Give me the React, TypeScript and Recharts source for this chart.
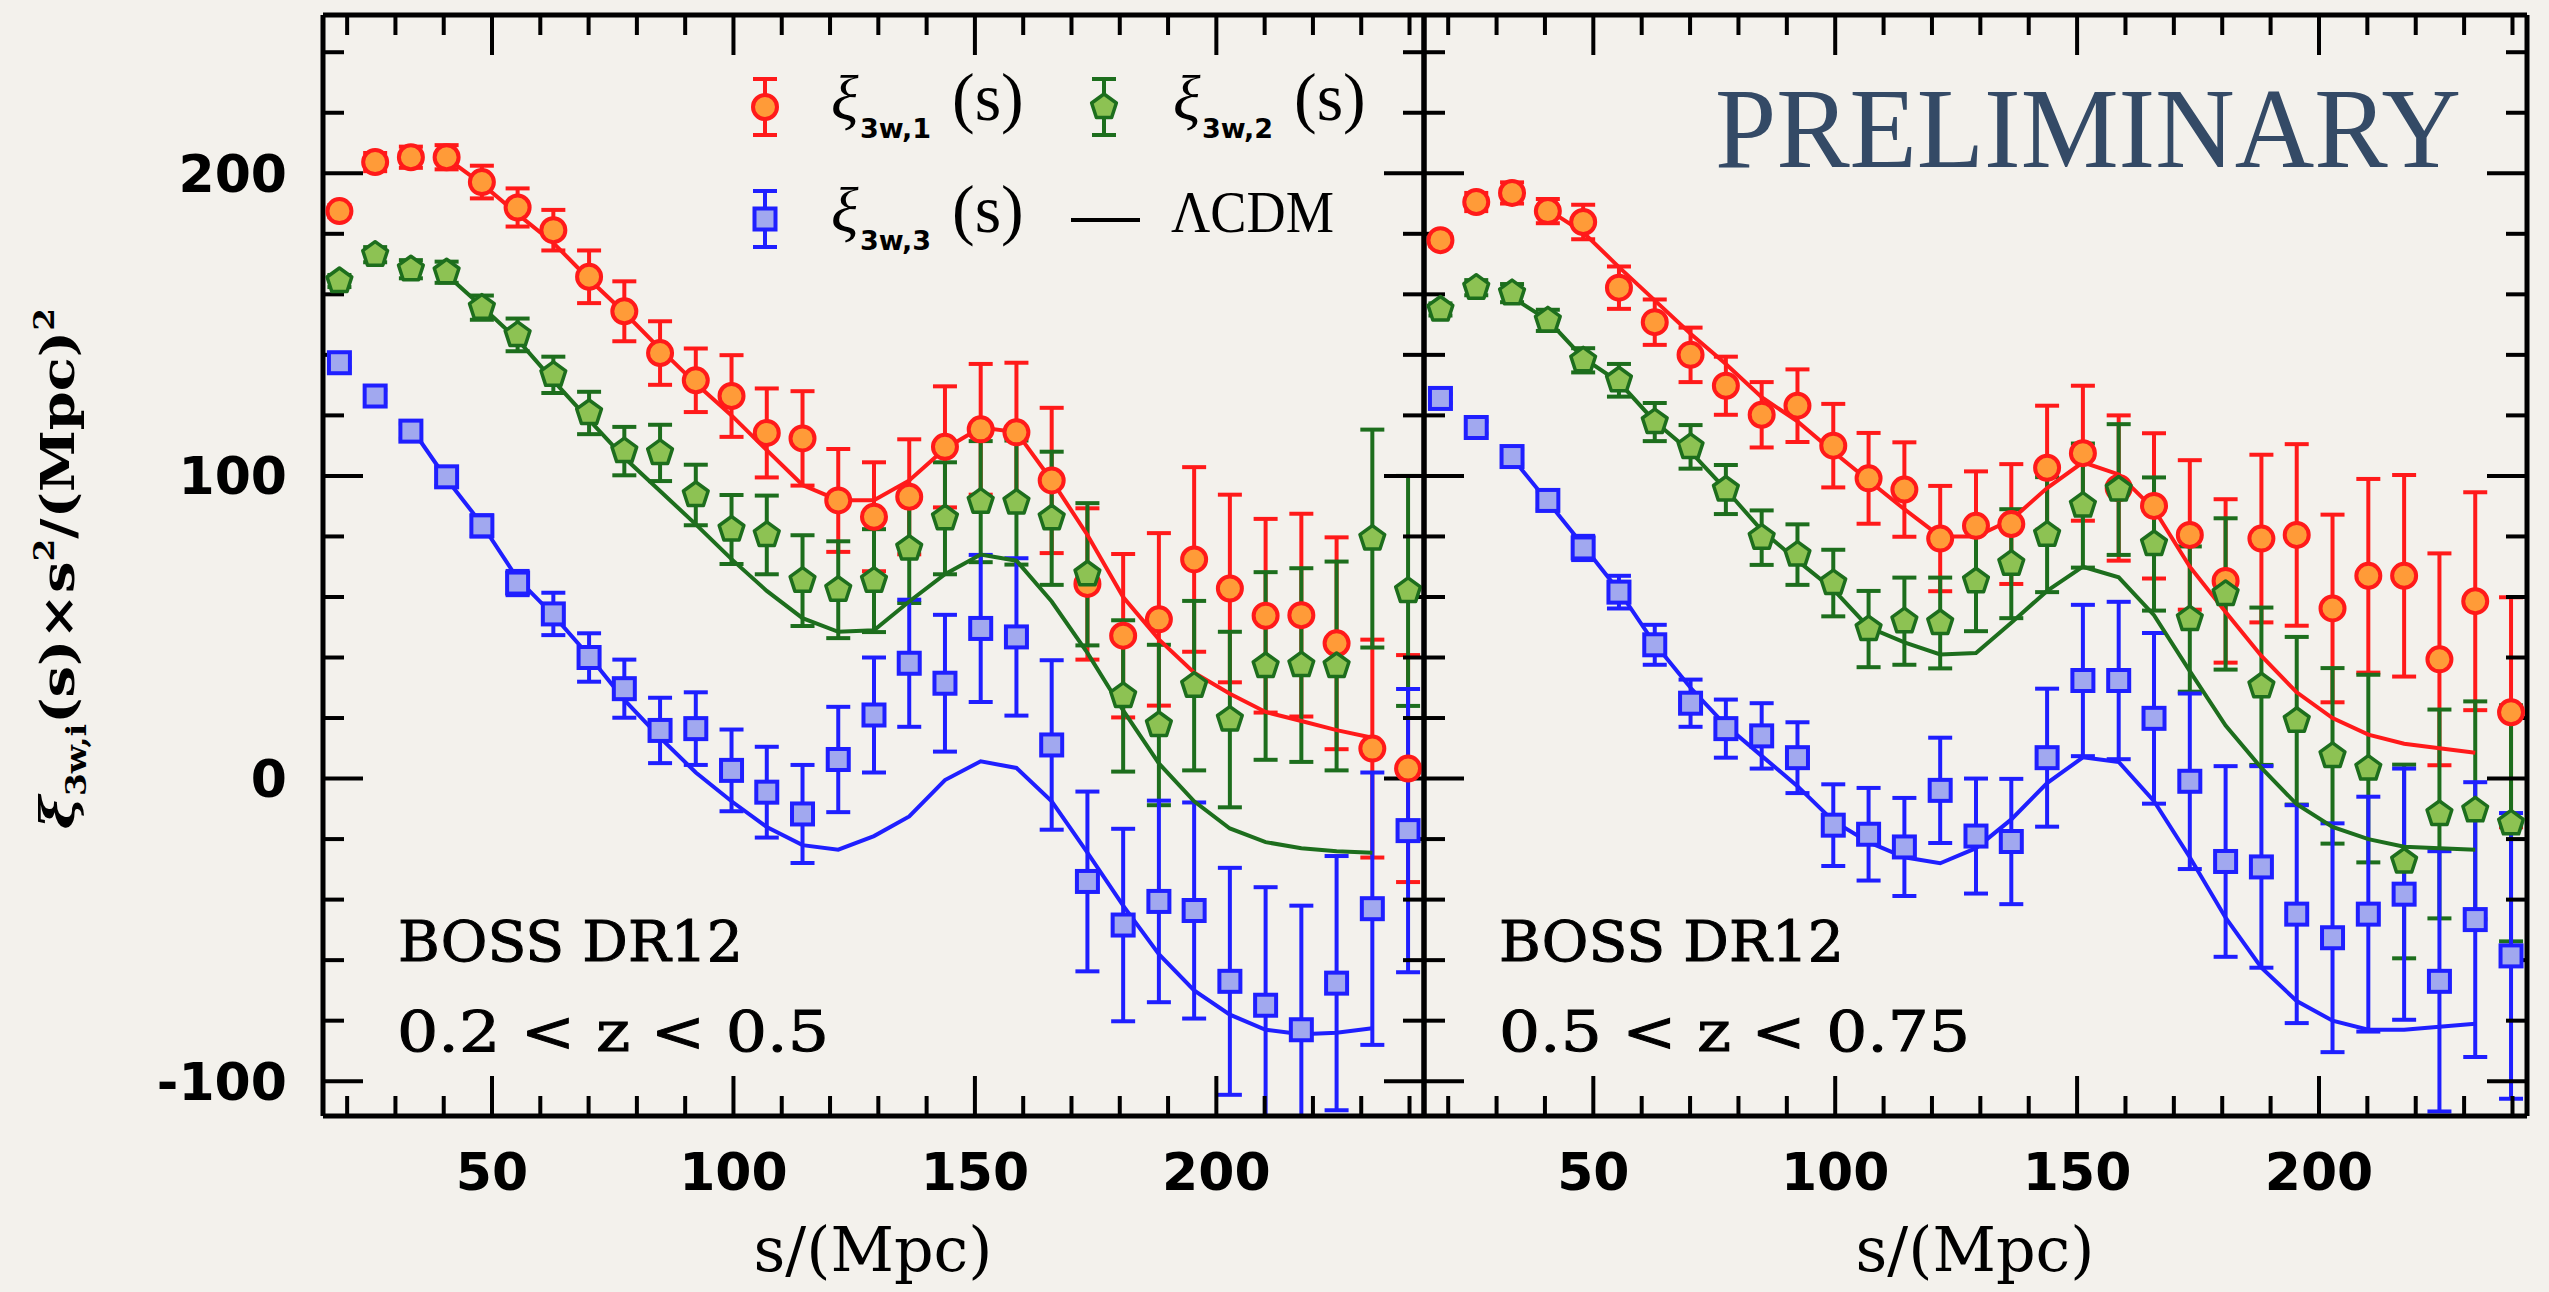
import React from 'react';
import { ComposedChart, Scatter, Line, XAxis, YAxis, ErrorBar } from 'recharts';

// separation bins (Mpc), shared by both redshift slices
const sBins = [
  18.4, 25.8, 33.2, 40.6, 47.9, 55.3, 62.7, 70.1, 77.4, 84.8, 92.2, 99.6, 106.9, 114.3, 121.7, 129.1,
  136.4, 143.8, 151.2, 158.6, 165.9, 173.3, 180.7, 188.1, 195.4, 202.8, 210.2, 217.6, 224.9, 232.3, 239.7,
];
// model curves are tabulated from the 3rd bin to the 30th
const modelBins = sBins.slice(2, 30);

// 0.2 < z < 0.5
const lowXi1 = [187.5, 203.7, 205.3, 205.3, 197.1, 188.7, 181.2, 165.8, 154.4, 140.6, 131.6, 126.4, 114.2, 112.4, 91.9, 86.5, 93.1, 109.6, 115.4, 114.4, 98.5, 64.3, 47.2, 52.6, 72.4, 62.8, 53.8, 54.0, 44.7, 9.9, 3.3];
const lowXi1Err = [2, 3, 3.5, 4, 5.4, 6.3, 6.7, 8.7, 9.9, 10.5, 10.5, 13.5, 14.7, 15.6, 17, 18, 19, 20, 21.6, 23, 24, 25, 27, 28.5, 30.5, 31, 32, 33.5, 35, 36, 37.5];
const lowXi2 = [164.4, 173.1, 168.3, 167.3, 155.6, 146.6, 133.4, 120.8, 108.2, 107.6, 93.7, 82.3, 80.5, 65.4, 62.4, 65.4, 76.0, 86.0, 91.5, 91.2, 86.0, 67.5, 27.3, 17.7, 30.7, 19.5, 37.2, 37.5, 37.2, 79.3, 62.0];
const lowXi2Err = [2, 2.5, 3, 3.5, 4, 5.4, 6, 7, 8, 9.3, 10, 11.4, 13, 15, 16, 17, 18, 18.5, 20, 20.5, 22, 23.5, 25, 26.5, 28, 29, 31, 32, 34.5, 36, 38];
const lowXi3 = [137.4, 126.4, 114.8, 99.7, 83.5, 64.6, 54.4, 40.0, 29.7, 15.9, 16.5, 2.7, -4.5, -11.7, 6.3, 21.0, 38.1, 31.5, 49.6, 46.8, 11.1, -34.0, -48.4, -40.6, -43.6, -67.0, -74.9, -83.0, -67.6, -43.0, -17.2];
const lowXi3Err = [1.5, 2, 2.5, 3, 3.5, 4, 7, 8, 9.6, 10.8, 12, 13.5, 15, 16.2, 17.4, 19, 21, 22.6, 24.3, 26, 28, 29.7, 31.8, 33.3, 35.7, 37.5, 39, 41, 42, 45, 46.8];
const lowModel1 = [null, 205, 196.5, 186.5, 177, 165, 154, 142, 130.5, 120, 108.5, 97, 92, 92, 98.5, 109, 116, 114.5, 98.5, 80.5, 60, 46, 35, 28, 22, 19, 16, 13.5];
const lowModel2 = [null, 166.5, 156, 145, 131.5, 118.5, 106, 95, 84, 72.5, 62, 53, 48.5, 49, 58.5, 67.5, 74, 72, 58.5, 41.5, 22.5, 5, -7.5, -16.5, -21, -23, -24, -24.5];
const lowModel3 = [116, 99, 84, 66, 54, 40.5, 26, 13.5, 2, -7.5, -16, -22, -23.5, -19, -12.5, -0.5, 5.7, 3.5, -7.5, -24.5, -42, -58, -70, -78, -83, -84.5, -84, -82.5];

// 0.5 < z < 0.75
const highXi1 = [177.9, 190.5, 193.5, 187.5, 183.9, 162.2, 150.8, 140.0, 129.8, 120.2, 123.2, 110.0, 99.2, 95.5, 79.3, 83.5, 84.1, 102.7, 107.5, 96.0, 90.1, 80.5, 65.3, 79.3, 80.5, 56.2, 67.0, 67.0, 39.4, 58.6, 21.9];
const highXi1Err = [2, 3, 3.5, 4, 5.7, 7, 7.5, 9, 9.6, 10.8, 12, 13.8, 15, 15.6, 17.4, 18, 19.8, 20.5, 22.3, 24, 24, 24.7, 27, 27.7, 30, 31, 32, 33.3, 35, 36, 38];
const highXi2 = [155.0, 162.2, 160.4, 151.4, 138.2, 131.6, 117.8, 109.6, 95.5, 79.6, 74.0, 64.6, 49.4, 52.0, 51.4, 65.2, 71.0, 80.6, 90.2, 95.5, 77.5, 52.7, 61.0, 30.5, 19.1, 7.5, 3.3, -27.4, -11.7, -10.5, -14.8];
const highXi2Err = [2, 2.5, 3, 3.5, 4, 5.4, 6.3, 7.2, 8.1, 9, 10, 11, 12.6, 14.4, 15, 16.5, 18, 19, 20.5, 21.6, 22, 24, 25, 26, 27.7, 29, 31, 32, 34.5, 36, 39];
const highXi3 = [125.6, 116.0, 106.4, 91.9, 76.2, 61.6, 44.2, 24.9, 16.5, 14.1, 6.9, -15.4, -18.4, -22.6, -3.9, -19.0, -20.8, 6.9, 32.4, 32.4, 19.9, -0.9, -27.4, -29.2, -44.8, -52.6, -44.8, -38.2, -67.0, -46.6, -58.6];
const highXi3Err = [1.5, 2, 2.5, 3, 4, 5.4, 6.6, 7.8, 9.6, 10.8, 11.7, 13.5, 15.3, 16.2, 17.4, 19, 20.7, 22.8, 25, 26, 28.2, 29, 31.5, 33.3, 36, 37.8, 38.8, 41.5, 43, 45.4, 47.2];
const highModel1 = [null, 188, 180.5, 169, 158, 147, 137, 126, 118, 108, 98.5, 89, 80, 80, 85.5, 96, 104.5, 100.5, 89, 70, 55, 40.5, 28.5, 20, 14.5, 11.5, 10, 8.5];
const highModel2 = [159, 151.5, 139, 131, 118, 108, 95.5, 82, 72, 62.5, 50, 45, 41, 41.5, 51.5, 62, 70, 66.5, 54, 35.5, 17.5, 3.5, -8.5, -16, -20, -22.5, -23, -23.5];
const highModel3 = [106, 91.5, 77, 62, 44.5, 30, 17.5, 7.5, -2.5, -14, -21, -26, -28, -23, -13.5, -1.5, 7, 5.5, -7.5, -26, -46, -62.5, -73.5, -80, -83, -83, -82, -81];

// axes
const X_DOMAIN: [number, number] = [15, 243];
const Y_DOMAIN: [number, number] = [-111.5, 252.3];
const xMajor = [50, 100, 150, 200];
const xMinor = [20, 30, 40, 60, 70, 80, 90, 110, 120, 130, 140, 160, 170, 180, 190, 210, 220, 230, 240];
const yMajor = [-100, 0, 100, 200];
const yMinor = [-80, -60, -40, -20, 20, 40, 60, 80, 120, 140, 160, 180, 220, 240];

// frame geometry (page pixels) of the two panels
const FRAME_TOP = 15;
const FRAME_BOTTOM = 1116;
const PANELS = [
  { left: 323, width: 1101 },
  { left: 1424, width: 1103 },
];

const RED = '#ff1a1a';
const ORANGE = '#ff9b38';
const GREEN = '#1d6e1d';
const LIME = '#8dc253';
const BLUE = '#1f1fff';
const LAVENDER = '#a1a8ef';
const BG = '#f3f1ec';

// error bars stop at the frame, like a clipped plot
const toPoints = (ys: number[], errs: number[]) =>
  sBins.map((s, i) => ({
    x: s,
    y: ys[i],
    err: [Math.min(errs[i], ys[i] - Y_DOMAIN[0]), Math.min(errs[i], Y_DOMAIN[1] - ys[i])],
  }));
const toCurve = (ys: (number | null)[]) =>
  modelBins.map((s, i) => ({ x: s, y: ys[i] })).filter((p) => p.y !== null);

const CircleMark = (p: any) => <circle cx={p.cx} cy={p.cy} r={12} fill={ORANGE} stroke={RED} strokeWidth={4} />;

const PentagonMark = (p: any) => {
  const R = 13;
  const pts = [0, 1, 2, 3, 4]
    .map((i) => {
      const a = ((-90 + 72 * i) * Math.PI) / 180;
      return `${p.cx + R * Math.cos(a)},${p.cy + R * Math.sin(a)}`;
    })
    .join(' ');
  return <polygon points={pts} fill={LIME} stroke={GREEN} strokeWidth={3.5} strokeLinejoin="round" />;
};

const SquareMark = (p: any) => (
  <rect x={p.cx - 10.5} y={p.cy - 10.5} width={21} height={21} fill={LAVENDER} stroke={BLUE} strokeWidth={4} />
);

// tick marks only, no text
const NoLabel = () => <g />;

const labelTick = { fontSize: 52, fontFamily: 'DejaVu Sans', fontWeight: 700, fill: '#000' };
const frameLine = { stroke: '#000', strokeWidth: 5 };
const tickStroke = { stroke: '#000', strokeWidth: 4 };

function Panel(props: any) {
  const { xi1, e1, xi2, e2, xi3, e3, m1, m2, m3, width, margin, withYLabels } = props;
  return (
    <ComposedChart width={width} height={1292} margin={margin}>
      <XAxis xAxisId="main" dataKey="x" orientation="bottom" type="number" domain={X_DOMAIN} allowDataOverflow
        ticks={xMajor} interval={0} height={80} axisLine={frameLine} tickLine={false} tickSize={0} tickMargin={37}
        tick={labelTick} />
      <XAxis xAxisId="top" orientation="top" height={1} type="number" domain={X_DOMAIN} allowDataOverflow
        ticks={xMajor} interval={0} tick={NoLabel} tickLine={false} axisLine={frameLine} />

      {withYLabels && (
        <YAxis yAxisId={0} dataKey="y" type="number" domain={Y_DOMAIN} allowDataOverflow ticks={yMajor} interval={0}
          width={120} axisLine={false} tickLine={false} tickSize={0} tickMargin={36} tick={labelTick} />
      )}
      <YAxis yAxisId={withYLabels ? 'lMaj' : 0} dataKey="y" orientation="left" mirror width={1} type="number"
        domain={Y_DOMAIN} allowDataOverflow ticks={yMajor} interval={0} tick={NoLabel} tickSize={40} stroke="#000"
        tickLine={tickStroke} axisLine={frameLine} />
      <YAxis yAxisId="lMin" orientation="left" mirror width={1} type="number" domain={Y_DOMAIN} allowDataOverflow
        ticks={yMinor} interval={0} tick={NoLabel} tickSize={20} stroke="#000" tickLine={tickStroke} axisLine={false} />
      <YAxis yAxisId="rMaj" orientation="right" mirror width={1} type="number" domain={Y_DOMAIN} allowDataOverflow
        ticks={yMajor} interval={0} tick={NoLabel} tickSize={40} stroke="#000" tickLine={tickStroke} axisLine={frameLine} />
      <YAxis yAxisId="rMin" orientation="right" mirror width={1} type="number" domain={Y_DOMAIN} allowDataOverflow
        ticks={yMinor} interval={0} tick={NoLabel} tickSize={20} stroke="#000" tickLine={tickStroke} axisLine={false} />

      <Scatter xAxisId="main" data={toPoints(xi1, e1)} dataKey="y" shape={CircleMark} isAnimationActive={false}>
        <ErrorBar dataKey="err" direction="y" width={12} stroke={RED} strokeWidth={4} />
      </Scatter>
      <Scatter xAxisId="main" data={toPoints(xi2, e2)} dataKey="y" shape={PentagonMark} isAnimationActive={false}>
        <ErrorBar dataKey="err" direction="y" width={12} stroke={GREEN} strokeWidth={4} />
      </Scatter>
      <Scatter xAxisId="main" data={toPoints(xi3, e3)} dataKey="y" shape={SquareMark} isAnimationActive={false}>
        <ErrorBar dataKey="err" direction="y" width={12} stroke={BLUE} strokeWidth={4} />
      </Scatter>

      <Line xAxisId="main" data={toCurve(m1)} dataKey="y" type="linear" stroke={RED} strokeWidth={4} dot={false} isAnimationActive={false} />
      <Line xAxisId="main" data={toCurve(m2)} dataKey="y" type="linear" stroke={GREEN} strokeWidth={4} dot={false} isAnimationActive={false} />
      <Line xAxisId="main" data={toCurve(m3)} dataKey="y" type="linear" stroke={BLUE} strokeWidth={4} dot={false} isAnimationActive={false} />
    </ComposedChart>
  );
}

// inward x ticks along the top and bottom of one panel frame
const FrameXTicks = ({ left, width }: any) => {
  const px = (v: number) => left + ((v - X_DOMAIN[0]) / (X_DOMAIN[1] - X_DOMAIN[0])) * width;
  const marks = [...xMajor.map((v) => [v, 40]), ...xMinor.map((v) => [v, 20])];
  return (
    <g stroke="#000" strokeWidth={4}>
      {marks.map(([v, len]) => (
        <g key={v}>
          <line x1={px(v)} y1={FRAME_BOTTOM} x2={px(v)} y2={FRAME_BOTTOM - len} />
          <line x1={px(v)} y1={FRAME_TOP} x2={px(v)} y2={FRAME_TOP + len} />
        </g>
      ))}
    </g>
  );
};

const LegendBar = ({ x, y, color }: any) => (
  <g stroke={color} strokeWidth={4}>
    <line x1={x} y1={y - 28} x2={x} y2={y + 28} />
    <line x1={x - 12} y1={y - 28} x2={x + 12} y2={y - 28} />
    <line x1={x - 12} y1={y + 28} x2={x + 12} y2={y + 28} />
  </g>
);

const XiLabel = ({ x, y, sub }: any) => (
  <text y={y} fontFamily="Liberation Serif" fill="#000">
    <tspan x={x} fontSize={64} fontStyle="italic">ξ</tspan>
    <tspan x={x + 29} y={y + 18} fontSize={27} fontFamily="DejaVu Sans" fontWeight={700}>{sub}</tspan>
    <tspan x={x + 121} y={y} fontSize={68}>(s)</tspan>
  </text>
);

export default function App() {
  return (
    <div style={{ position: 'absolute', left: 0, top: 0, width: 2549, height: 1292, background: BG, overflow: 'hidden' }}>
      <div style={{ position: 'absolute', left: 0, top: 0 }}>
        <Panel xi1={lowXi1} e1={lowXi1Err} xi2={lowXi2} e2={lowXi2Err} xi3={lowXi3} e3={lowXi3Err}
          m1={lowModel1} m2={lowModel2} m3={lowModel3} width={1440}
          margin={{ top: 14, right: 16, bottom: 96, left: 203 }} withYLabels />
      </div>
      <div style={{ position: 'absolute', left: 1324, top: 0 }}>
        <Panel xi1={highXi1} e1={highXi1Err} xi2={highXi2} e2={highXi2Err} xi3={highXi3} e3={highXi3Err}
          m1={highModel1} m2={highModel2} m3={highModel3} width={1225}
          margin={{ top: 14, right: 22, bottom: 96, left: 100 }} withYLabels={false} />
      </div>

      <svg width={2549} height={1292} style={{ position: 'absolute', left: 0, top: 0, pointerEvents: 'none' }}>
        {PANELS.map((p) => (
          <FrameXTicks key={p.left} left={p.left} width={p.width} />
        ))}

        {/* legend */}
        <LegendBar x={765} y={107} color={RED} />
        <CircleMark cx={765} cy={107} />
        <XiLabel x={831} y={120} sub="3w,1" />
        <LegendBar x={1104} y={107} color={GREEN} />
        <PentagonMark cx={1104} cy={107} />
        <XiLabel x={1173} y={120} sub="3w,2" />
        <LegendBar x={765} y={219} color={BLUE} />
        <SquareMark cx={765} cy={219} />
        <XiLabel x={831} y={232} sub="3w,3" />
        <line x1={1071} y1={220} x2={1140} y2={220} stroke="#000" strokeWidth={4} />
        <text x={1171} y={232} fontFamily="Liberation Serif" fontSize={60} textLength={163} lengthAdjust="spacingAndGlyphs">ΛCDM</text>

        <text x={1715} y={167} fontFamily="Liberation Serif" fontSize={114} fill="#344a66" textLength={746}
          lengthAdjust="spacingAndGlyphs">PRELIMINARY</text>

        {/* sample annotations */}
        <g fontFamily="DejaVu Serif" fontSize={56} fill="#000" stroke="#000" strokeWidth={1}>
          <text x={398} y={961} textLength={345} lengthAdjust="spacingAndGlyphs">BOSS DR12</text>
          <text x={397} y={1051} textLength={432} lengthAdjust="spacingAndGlyphs">0.2 &lt; z &lt; 0.5</text>
          <text x={1499} y={961} textLength={345} lengthAdjust="spacingAndGlyphs">BOSS DR12</text>
          <text x={1499} y={1051} textLength={471} lengthAdjust="spacingAndGlyphs">0.5 &lt; z &lt; 0.75</text>
        </g>

        {/* axis titles */}
        <text x={873} y={1271} textAnchor="middle" fontFamily="DejaVu Serif" fontSize={62}>s/(Mpc)</text>
        <text x={1975} y={1271} textAnchor="middle" fontFamily="DejaVu Serif" fontSize={62}>s/(Mpc)</text>
        <text transform="translate(74, 829) rotate(-90)" fontFamily="DejaVu Serif" fontWeight={700} fontSize={46}
          textLength={521} lengthAdjust="spacingAndGlyphs">
          <tspan fontStyle="italic">ξ</tspan>
          <tspan fontSize={27} dy={12}>3w,i</tspan>
          <tspan dy={-12}>(s)×s</tspan>
          <tspan fontSize={27} dy={-20}>2</tspan>
          <tspan dy={20}>/(Mpc)</tspan>
          <tspan fontSize={27} dy={-20}>2</tspan>
        </text>
      </svg>
    </div>
  );
}
